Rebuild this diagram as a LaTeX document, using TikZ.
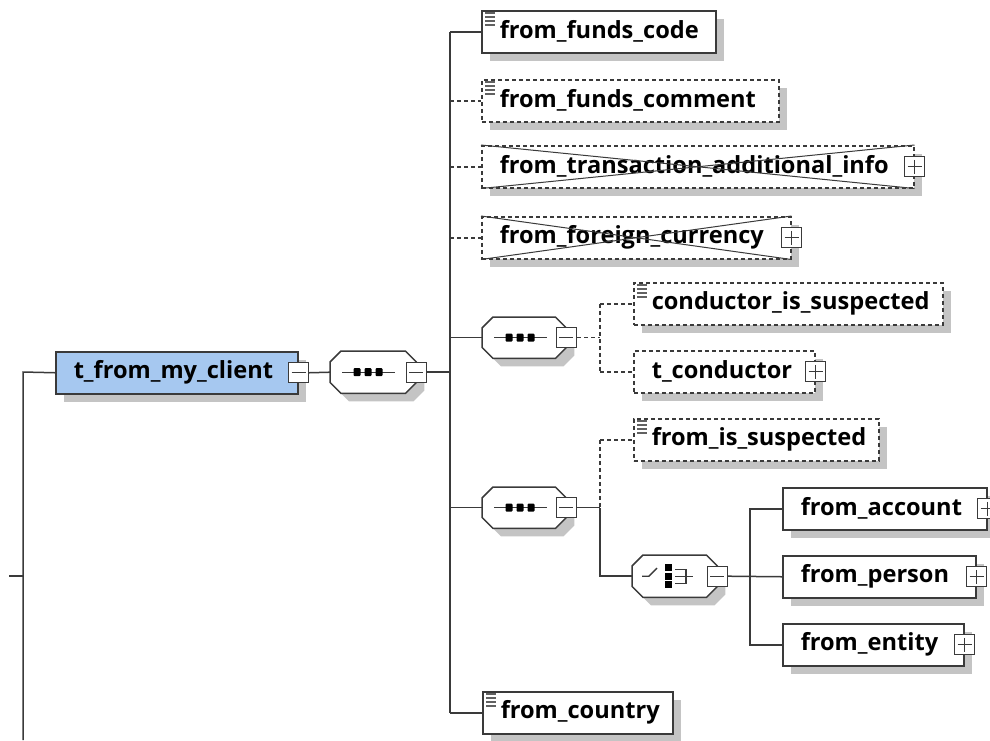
\documentclass[tikz,border=0pt]{standalone}
\usepackage{fontspec}
\setsansfont{Open Sans}
\usetikzlibrary{shadows}

\definecolor{edge}{HTML}{3A3A3A}
\definecolor{shadowgray}{HTML}{C4C4C4}
\definecolor{typefill}{HTML}{A6C8F0}

\pgfdeclarelayer{bg}
\pgfsetlayers{bg,main}

\tikzset{
  line/.style={draw=edge, line width=1.5pt},
  opt/.style={dash pattern=on 4pt off 3pt},
  elem/.style={draw=edge, line width=1.5pt, fill=white, rectangle,
    inner xsep=18pt, inner ysep=0pt, anchor=north west, align=left,
    minimum height=42pt,
    font=\sffamily\bfseries\fontsize{23.6}{26}\selectfont, text=black,
    drop shadow={shadow xshift=8pt, shadow yshift=-8pt, fill=shadowgray, opacity=1}},
  holder/.style={rectangle, inner sep=0pt, anchor=north west, minimum height=42pt},
  octa/.style={draw=edge, line width=1.5pt, fill=white},
  expander/.style={draw=edge, fill=white, line width=1.3pt, minimum size=20pt,
    inner sep=0pt},
  minusbox/.style={expander, path picture={
    \draw[edge, line width=1.3pt] ([xshift=3pt]path picture bounding box.west)
      -- ([xshift=-3pt]path picture bounding box.east);}},
  plusbox/.style={expander, path picture={
    \draw[edge, line width=1.3pt] ([xshift=3pt]path picture bounding box.west)
      -- ([xshift=-3pt]path picture bounding box.east);
    \draw[edge, line width=1.3pt] ([yshift=-3pt]path picture bounding box.north)
      -- ([yshift=3pt]path picture bounding box.south);}},
  icon/.style={draw=edge, line width=1.4pt},
  doc/.style={draw=edge!80, line width=1.3pt},
  cross/.style={draw=edge, line width=1pt}
}

% chamfered outline of a compositor box
\newcommand\octpath[1]{([xshift=11pt]#1.north west) -- ([xshift=-11pt]#1.north east)
  -- ([yshift=-11pt]#1.north east) -- ([yshift=11pt]#1.south east)
  -- ([xshift=-11pt]#1.south east) -- ([xshift=11pt]#1.south west)
  -- ([yshift=11pt]#1.south west) -- ([yshift=-11pt]#1.north west) -- cycle}
\newcommand\octbox[1]{%
  \begin{scope}[transform canvas={shift={(8pt,-8pt)}}]
    \fill[shadowgray] \octpath{#1};
  \end{scope}
  \draw[octa] \octpath{#1};}
% sequence symbol
\newcommand\seqicon[1]{%
  \draw[icon] ([xshift=12pt]#1.west) -- ([xshift=65pt]#1.west);
  \foreach \d in {23.5,34.5,45.5}
    \fill[black, rounded corners=1pt] ([shift={(\d pt,4pt)}]#1.west) rectangle ++(7,8);}
% choice symbol
\newcommand\choiceicon[1]{%
  \draw[icon] ([xshift=10pt]#1.west) -- ([xshift=17pt]#1.west) -- ([shift={(25pt,8pt)}]#1.west);
  \fill[black] ([shift={(33pt,12pt)}]#1.west) rectangle ++(7,7);
  \fill[black] ([shift={(33pt,3.5pt)}]#1.west) rectangle ++(7,7);
  \fill[black] ([shift={(33pt,-5pt)}]#1.west) rectangle ++(7,7);
  \draw[icon] ([shift={(43pt,7pt)}]#1.west) -- ++(11,0) -- ++(0,14) -- ++(-11,0);
  \draw[icon] ([shift={(43pt,0pt)}]#1.west) -- ++(18,0);}
% documentation marker in the upper left corner
\newcommand\docicon[1]{%
  \foreach \k in {0,4,8,12}
    \draw[doc] ([shift={(4pt,-3pt-\k pt)}]#1.north west) -- ++(10,0);}
% crossed-out element
\newcommand\crossout[1]{%
  \draw[cross] (#1.north west) -- (#1.south east);
  \draw[cross] (#1.south west) -- (#1.north east);}

\begin{document}
\begin{tikzpicture}[x=1pt, y=-1pt]
\useasboundingbox (0,0) rectangle (990,740);

% complex type
\node[elem, fill=typefill, minimum width=242pt, text width=206pt] (tfmc) at (55,351) {t\_from\_my\_client};
\node[minusbox] (tfmc-x) at (tfmc.east) {};

% outer sequence
\node[holder, minimum width=86pt] (seq1) at (330,351) {};
\octbox{seq1}
\node[minusbox] (seq1-x) at (seq1.east) {};
\seqicon{seq1}

% children of the outer sequence
\node[elem, minimum width=234pt, text width=198pt] (ffc) at (481,10) {from\_funds\_code};
\docicon{ffc}
\node[elem, opt, minimum width=297pt, text width=261pt] (ffcm) at (481,79) {from\_funds\_comment};
\docicon{ffcm}
\node[elem, opt, minimum width=432pt, text width=396pt] (fta) at (481,145) {from\_transaction\_additional\_info};
\crossout{fta}
\node[plusbox] (fta-x) at (fta.east) {};
\node[elem, opt, minimum width=309pt, text width=273pt] (ffcur) at (481,216) {from\_foreign\_currency};
\crossout{ffcur}
\node[plusbox] (ffcur-x) at (ffcur.east) {};

% conductor sequence
\node[holder, minimum width=84pt, minimum height=41pt] (seq2) at (482,317) {};
\octbox{seq2}
\node[minusbox] (seq2-x) at (seq2.east) {};
\seqicon{seq2}
\node[elem, opt, minimum width=309pt, text width=273pt] (cis) at (633,282) {conductor\_is\_suspected};
\docicon{cis}
\node[elem, opt, minimum width=181pt, text width=145pt] (tcond) at (633,350) {t\_conductor};
\node[plusbox] (tcond-x) at (tcond.east) {};

% origin sequence
\node[holder, minimum width=84pt, minimum height=41pt] (seq3) at (482,487) {};
\octbox{seq3}
\node[minusbox] (seq3-x) at (seq3.east) {};
\seqicon{seq3}
\node[elem, opt, minimum width=245pt, text width=209pt] (fis) at (633,418) {from\_is\_suspected};
\docicon{fis}

% choice of origin
\node[holder, minimum width=85pt] (ch) at (632,555) {};
\octbox{ch}
\node[minusbox] (ch-x) at (ch.east) {};
\choiceicon{ch}
\node[elem, minimum width=204pt, text width=168pt] (facc) at (782,487) {from\_account};
\node[plusbox] (facc-x) at (facc.east) {};
\node[elem, minimum width=193pt, text width=157pt] (fper) at (782,555) {from\_person};
\node[plusbox] (fper-x) at (fper.east) {};
\node[elem, minimum width=181pt, text width=145pt] (fent) at (782,623) {from\_entity};
\node[plusbox] (fent-x) at (fent.east) {};

\node[elem, minimum width=190pt, text width=154pt] (fctry) at (482,691) {from\_country};
\docicon{fctry}

% free ends and branch columns
\coordinate (lt) at (23,372);
\coordinate (lb) at (23,740);
\coordinate (stub) at (9,576);
\coordinate (stubend) at (23,576);
\coordinate (b1) at (450,0);
\coordinate (b2) at (600,0);
\coordinate (b3) at (750,0);

\begin{pgfonlayer}{bg}
  \draw[line] (lb) -- (lt) -- (tfmc.west);
  \draw[line] (stub) -- (stubend);
  \draw[line] (tfmc-x.east) -- (seq1.west);
  \draw[line] (seq1-x.east) -- (seq1-x.east -| b1);
  % outer branch column
  \draw[line] (ffc.west -| b1) -- (fctry.west -| b1);
  \draw[line] (ffc.west -| b1) -- (ffc.west);
  \draw[line, opt] (ffcm.west -| b1) -- (ffcm.west);
  \draw[line, opt] (fta.west -| b1) -- (fta.west);
  \draw[line, opt] (ffcur.west -| b1) -- (ffcur.west);
  \draw[line] (seq2.west -| b1) -- (seq2.west);
  \draw[line] (seq3.west -| b1) -- (seq3.west);
  \draw[line] (fctry.west -| b1) -- (fctry.west);
  % conductor branch
  \draw[line, opt] (seq2-x.east) -- (seq2-x.east -| b2);
  \draw[line, opt] (cis.west -| b2) -- (tcond.west -| b2);
  \draw[line, opt] (cis.west -| b2) -- (cis.west);
  \draw[line, opt] (tcond.west -| b2) -- (tcond.west);
  % origin branch
  \draw[line] (seq3-x.east) -- (seq3-x.east -| b2);
  \draw[line, opt] (fis.west -| b2) -- (seq3-x.east -| b2);
  \draw[line, opt] (fis.west -| b2) -- (fis.west);
  \draw[line] (seq3-x.east -| b2) -- (ch.west -| b2) -- (ch.west);
  % choice branch
  \draw[line] (ch-x.east) -- (fper.west);
  \draw[line] (facc.west) -- (facc.west -| b3) -- (fent.west -| b3) -- (fent.west);
\end{pgfonlayer}
\end{tikzpicture}
\end{document}
